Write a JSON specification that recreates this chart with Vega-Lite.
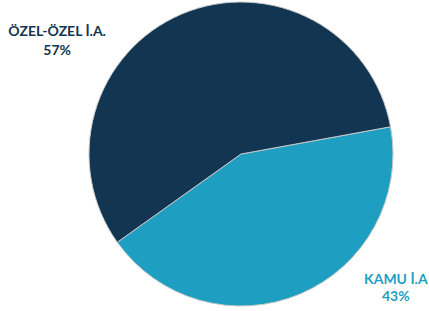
{
  "$schema": "https://vega.github.io/schema/vega-lite/v6.json",
  "autosize": "none",
  "width": 304,
  "height": 304,
  "padding": {"left": 89, "top": 2, "right": 36, "bottom": 5},
  "background": "white",
  "config": {"view": {"stroke": null}},
  "data": {"values": [
    {"category": "KAMU İ.A", "value": 43, "pct": "43%"},
    {"category": "ÖZEL-ÖZEL İ.A.", "value": 57, "pct": "57%"}
  ]},
  "encoding": {
    "theta": {"field": "value", "type": "quantitative", "stack": true,
      "scale": {"domain": [0, 100], "range": [1.391, 7.674]}},
    "color": {"field": "category", "type": "nominal", "legend": null,
      "scale": {"domain": ["KAMU İ.A", "ÖZEL-ÖZEL İ.A."], "range": ["#1E9FC1", "#123552"]}}
  },
  "layer": [
    {"mark": {"type": "arc", "radius": 152, "stroke": "#C8C8C8", "strokeWidth": 1}},
    {"mark": {"type": "text", "radius": 200, "dx": -106, "dy": 62, "font": "Lato", "fontWeight": "bold", "fontSize": 14},
     "encoding": {"text": {"condition": {"test": "datum.category == 'ÖZEL-ÖZEL İ.A.'", "field": "category"}, "value": ""}}},
    {"mark": {"type": "text", "radius": 200, "dx": -106, "dy": 81, "font": "Lato", "fontWeight": "bold", "fontSize": 14},
     "encoding": {"text": {"condition": {"test": "datum.category == 'ÖZEL-ÖZEL İ.A.'", "field": "pct"}, "value": ""}}},
    {"mark": {"type": "text", "radius": 200, "dx": 77, "dy": -58, "font": "Lato", "fontWeight": "bold", "fontSize": 14},
     "encoding": {"text": {"condition": {"test": "datum.category == 'KAMU İ.A'", "field": "category"}, "value": ""}}},
    {"mark": {"type": "text", "radius": 200, "dx": 77, "dy": -41, "font": "Lato", "fontWeight": "bold", "fontSize": 14},
     "encoding": {"text": {"condition": {"test": "datum.category == 'KAMU İ.A'", "field": "pct"}, "value": ""}}}
  ]
}
